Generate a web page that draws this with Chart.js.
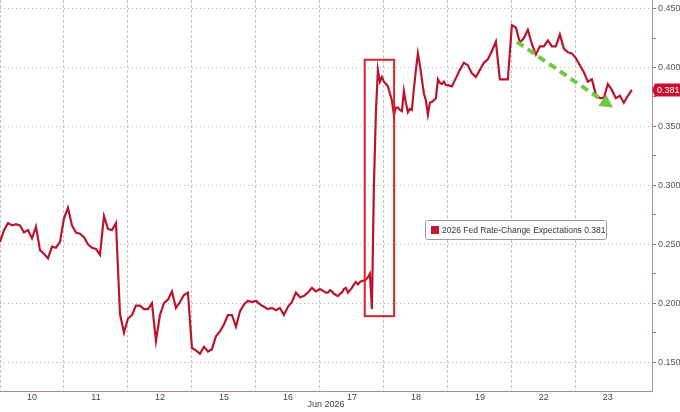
<!DOCTYPE html>
<html><head><meta charset="utf-8">
<script src="https://cdn.jsdelivr.net/npm/chart.js@4.4.1/dist/chart.umd.min.js"></script>
<style>html,body{margin:0;padding:0;background:#fff;} #wrap{width:680px;height:412px;position:relative;}</style>
</head><body><div id="wrap"><canvas id="c"></canvas></div>
<script>
// ---- data ----
const seriesName = '2026 Fed Rate-Change Expectations';
const dayLabels = ['10','11','12','15','16','17','18','19','22','23'];
const monthLabel = 'Jun 2026';
const d10 = [0.252,0.262,0.268,0.266,0.267,0.266,0.260,0.262,0.255,0.265,0.245,0.242,0.238,0.248,0.247,0.252];
const d11 = [0.272,0.281,0.266,0.260,0.259,0.256,0.250,0.247,0.246,0.241,0.274,0.263,0.262,0.268,0.191,0.175];
const d12 = [0.187,0.190,0.198,0.198,0.195,0.195,0.200,0.168,0.190,0.200,0.203,0.210,0.196,0.201,0.207,0.209];
const d15 = [0.162,0.160,0.157,0.163,0.159,0.161,0.172,0.176,0.182,0.190,0.190,0.180,0.193,0.199,0.202,0.201];
const d16 = [0.202,0.199,0.197,0.195,0.196,0.194,0.196,0.190,0.197,0.201,0.209,0.205,0.206,0.209,0.213,0.210];
const d17 = [0.212,0.211,0.210,0.209,0.209,0.211,0.210,0.208,0.207,0.206,0.208,0.209,0.212,0.213,0.209,0.211,
             0.213,0.216,0.218,0.216,0.218,0.219,0.219,0.220,0.222,0.225,0.195,0.300,0.362,0.398,0.388,0.392];
const d18 = [0.388,0.386,0.384,0.378,0.372,0.360,0.366,0.366,0.364,0.363,0.380,0.370,0.362,0.365,0.364,0.382,
             0.398,0.412,0.402,0.390,0.378,0.372,0.360,0.370,0.371,0.372,0.374,0.390,0.387,0.386,0.388,0.385];
const d19 = [0.385,0.384,0.391,0.398,0.404,0.402,0.395,0.392,0.398,0.404,0.407,0.414,0.422,0.390,0.390,0.390];
const d22 = [0.436,0.434,0.421,0.425,0.432,0.420,0.411,0.418,0.418,0.423,0.418,0.418,0.428,0.416,0.413,0.412];
const d23 = [0.408,0.402,0.396,0.388,0.390,0.377,0.374,0.374,0.386,0.381,0.374,0.376,0.370,0.376,0.381,null];
const yTickValues = [0.150,0.175,0.200,0.225,0.250,0.275,0.300,0.325,0.350,0.375,0.400,0.425,0.450];
const yMajorTicks = [0.150,0.200,0.250,0.300,0.350,0.400,0.450];
// annotations (data units)
const boxX = [5.70, 6.16], boxY = [0.189, 0.4066];
const arrowFrom = [8.08, 0.4218], arrowTo = [9.58, 0.366];

// ---- build ----
const days = [d10,d11,d12,d15,d16,d17,d18,d19,d22,d23];
const points = [];
days.forEach((arr, i) => arr.forEach((v, k) => points.push({x: i + k / arr.length, y: v})));
let lastValue = null;
points.forEach(p => { if (p.y !== null) lastValue = p.y; });

const LINE = '#b8162f';
const FONT = "'Liberation Sans', Arial, sans-serif";
const xTicks = [];
for (let i = 0; i < dayLabels.length; i++) { xTicks.push(i); xTicks.push(i + 0.5); }
const isMajor = v => yMajorTicks.some(m => Math.abs(m - v) < 1e-9);

const overlay = {
  id: 'overlay',
  afterDatasetsDraw(chart) {
    const {ctx, scales: {x, y}} = chart;
    ctx.save();
    const bx1 = x.getPixelForValue(boxX[0]), bx2 = x.getPixelForValue(boxX[1]);
    const by1 = y.getPixelForValue(boxY[1]), by2 = y.getPixelForValue(boxY[0]);
    ctx.strokeStyle = '#d6232b'; ctx.lineWidth = 2;
    ctx.strokeRect(bx1, by1, bx2 - bx1, by2 - by1);
    const x1 = x.getPixelForValue(arrowFrom[0]), y1 = y.getPixelForValue(arrowFrom[1]);
    const x2 = x.getPixelForValue(arrowTo[0]), y2 = y.getPixelForValue(arrowTo[1]);
    const ang = Math.atan2(y2 - y1, x2 - x1);
    const head = 13, hw = 7;
    const hx = x2 - head * Math.cos(ang), hy = y2 - head * Math.sin(ang);
    ctx.strokeStyle = '#72c844'; ctx.fillStyle = '#72c844';
    ctx.lineWidth = 4; ctx.setLineDash([8, 5]);
    ctx.beginPath(); ctx.moveTo(x1, y1); ctx.lineTo(hx, hy); ctx.stroke();
    ctx.setLineDash([]);
    ctx.beginPath(); ctx.moveTo(x2, y2);
    ctx.lineTo(hx - hw * Math.sin(ang), hy + hw * Math.cos(ang));
    ctx.lineTo(hx + hw * Math.sin(ang), hy - hw * Math.cos(ang));
    ctx.closePath(); ctx.fill();
    ctx.restore();
  },
  afterDraw(chart) {
    const {ctx, scales: {y}, chartArea} = chart;
    ctx.save();
    const yc = y.getPixelForValue(lastValue);
    const L = chartArea.right;
    ctx.fillStyle = '#c8102e';
    ctx.beginPath();
    ctx.moveTo(L, yc); ctx.lineTo(L + 3, yc - 6.5); ctx.lineTo(680, yc - 6.5);
    ctx.lineTo(680, yc + 6.5); ctx.lineTo(L + 3, yc + 6.5); ctx.closePath(); ctx.fill();
    ctx.fillStyle = '#fff'; ctx.font = '9px ' + FONT; ctx.textBaseline = 'middle'; ctx.textAlign = 'left';
    ctx.fillText(lastValue.toFixed(3), L + 5, yc + 0.5);
    ctx.fillStyle = '#fff'; ctx.strokeStyle = '#9a9a9a'; ctx.lineWidth = 1;
    ctx.beginPath();
    if (ctx.roundRect) ctx.roundRect(425.5, 220.5, 181, 19, 2); else ctx.rect(425.5, 220.5, 181, 19);
    ctx.fill(); ctx.stroke();
    ctx.fillStyle = '#c01a30'; ctx.fillRect(431, 226, 8, 8);
    ctx.fillStyle = '#333'; ctx.font = '8.5px ' + FONT; ctx.textBaseline = 'middle';
    ctx.fillText(seriesName + ' ' + lastValue.toFixed(3), 442, 230.5);
    ctx.restore();
  }
};

new Chart(document.getElementById('c'), {
  type: 'line',
  data: { datasets: [{ label: seriesName, data: points, borderColor: LINE, borderWidth: 2.2,
           pointRadius: 0, tension: 0, spanGaps: false, fill: false }] },
  options: {
    responsive: true, maintainAspectRatio: false, animation: false,
    layout: { padding: 0 },
    plugins: { legend: { display: false }, tooltip: { enabled: false } },
    scales: {
      x: {
        type: 'linear', min: 0, max: 10.19,
        afterBuildTicks: s => { s.ticks = xTicks.map(v => ({value: v})); },
        afterFit: s => { s.height = 21; s.paddingLeft = 0; s.paddingRight = 0; },
        ticks: { autoSkip: false, maxRotation: 0, minRotation: 0, padding: 1, color: '#444',
                 font: { family: FONT, size: 9 },
                 callback: v => (Math.abs(v - Math.floor(v) - 0.5) < 1e-6 ? dayLabels[Math.floor(v)] : '') },
        grid: { drawTicks: false, lineWidth: 1,
                color: c => (c.tick && Number.isInteger(c.tick.value)) ? '#c2c2c2' : 'rgba(0,0,0,0)' },
        border: { display: true, color: '#a58c9c', width: 1, dash: [3, 2] },
        title: { display: true, text: monthLabel, color: '#444', font: { family: FONT, size: 9 },
                 padding: { top: 0, bottom: 2 } }
      },
      y: {
        type: 'linear', position: 'right', min: 0.1255, max: 0.4573,
        afterBuildTicks: s => { s.ticks = yTickValues.map(v => ({value: v})); },
        afterFit: s => { s.width = 28; s.paddingTop = 0; s.paddingBottom = 0; },
        ticks: { autoSkip: false, padding: 2, color: '#555', font: { family: FONT, size: 9 },
                 callback: v => isMajor(v) ? v.toFixed(3) : '' },
        grid: { drawTicks: true, tickLength: 4, tickColor: '#b3607c',
                color: c => (c.tick && isMajor(c.tick.value)) ? '#b5b5b5' : 'rgba(0,0,0,0)' },
        border: { display: true, color: '#b08fa2', width: 1, dash: [1, 3] }
      }
    }
  },
  plugins: [overlay]
});
</script></body></html>
